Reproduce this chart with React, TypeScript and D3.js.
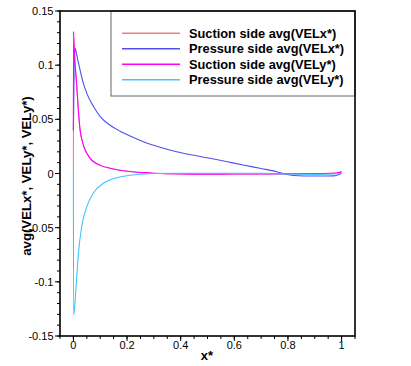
import React from "react";
import * as d3 from "d3";

const suctionVelxX = [0, 0.0005, 0.001, 0.004, 0.008, 0.0127, 0.018, 0.025, 0.035, 0.05, 0.07, 0.1, 0.137, 0.174, 0.22, 0.26, 0.3, 0.4, 0.5, 0.6, 0.7, 0.8, 0.9, 0.98, 1.0];
const suctionVelxY = [0.008, 0.11, 0.125, 0.11, 0.095, 0.08, 0.06, 0.04, 0.028, 0.0186, 0.012, 0.0075, 0.0048, 0.003, 0.0016, 0.0008, 0.0002, -0.0005, -0.0006, -0.0005, -0.0004, -0.0002, 0, 0.0005, 0.0015];

const pressureVelxX = [0, 0.003, 0.0065, 0.012, 0.018, 0.025, 0.035, 0.05, 0.0745, 0.1, 0.137, 0.174, 0.22, 0.261, 0.32, 0.385, 0.45, 0.509, 0.57, 0.633, 0.7, 0.758, 0.789, 0.82, 0.9, 0.97, 1.0];
const pressureVelxY = [0.04, 0.105, 0.1155, 0.11, 0.103, 0.0955, 0.085, 0.074, 0.062, 0.0525, 0.0445, 0.039, 0.0337, 0.0294, 0.0245, 0.0201, 0.0168, 0.014, 0.011, 0.0078, 0.0046, 0.0017, -0.0005, -0.0018, -0.0023, -0.0022, 0.0];

const suctionVelyX = [0, 0.0005, 0.001, 0.004, 0.008, 0.0127, 0.018, 0.025, 0.035, 0.05, 0.07, 0.1, 0.137, 0.174, 0.22, 0.26, 0.3, 0.4, 0.5, 0.6, 0.7, 0.8, 0.9, 0.98, 1.0];
const suctionVelyY = [0.04, 0.131, 0.128, 0.11, 0.095, 0.08, 0.06, 0.04, 0.028, 0.0186, 0.012, 0.0075, 0.0048, 0.003, 0.0016, 0.0008, 0.0002, -0.0005, -0.0006, -0.0005, -0.0004, -0.0002, 0, 0.0005, 0.0015];

const pressureVelyX = [0, 0.0005, 0.004, 0.01, 0.0187, 0.031, 0.05, 0.0745, 0.112, 0.137, 0.174, 0.22, 0.26, 0.3, 0.4, 0.5, 0.6, 0.7, 0.8, 0.9, 1.0];
const pressureVelyY = [0.008, -0.1306, -0.125, -0.1045, -0.0737, -0.049, -0.0306, -0.018, -0.009, -0.0058, -0.0032, -0.0014, -0.0005, 0, 0.0003, 0.0003, 0.0002, 0.0001, -0.0005, -0.0008, 0.0];

const seriesNames = [
  "Suction side avg(VELx*)",
  "Pressure side avg(VELx*)",
  "Suction side avg(VELy*)",
  "Pressure side avg(VELy*)",
];
const seriesColors = ["#f08080", "#5050ee", "#ff00ff", "#40c4ff"];

const xMajorTicks = [0, 0.2, 0.4, 0.6, 0.8, 1];
const xTickLabels = ["0", "0.2", "0.4", "0.6", "0.8", "1"];
const yMajorTicks = [0.15, 0.1, 0.05, 0, -0.05, -0.1, -0.15];
const yTickLabels = ["0.15", "0.1", "0.05", "0", "-0.05", "-0.1", "-0.15"];

export default function App() {
  const W = 411, H = 366;
  const L = 60, R = 355, T = 11, B = 336;
  const x = d3.scaleLinear().domain([-0.05, 1.05]).range([L, R]);
  const y = d3.scaleLinear().domain([-0.15, 0.15]).range([B, T]);

  const xs = [suctionVelxX, pressureVelxX, suctionVelyX, pressureVelyX];
  const ys = [suctionVelxY, pressureVelxY, suctionVelyY, pressureVelyY];
  const line = d3
    .line<[number, number]>()
    .x((d) => x(d[0]))
    .y((d) => y(d[1]))
    .curve(d3.curveMonotoneX);

  const xMinor = d3.range(0, 23).map((i) => -0.05 + i * 0.05);
  const yMinor = d3.range(0, 31).map((i) => -0.15 + i * 0.01);

  const font = "'Liberation Sans', Arial, Helvetica, sans-serif";

  return (
    <svg width={W} height={H} style={{ position: "absolute", left: 0, top: 0 }} fontFamily={font}>
      <rect x={0} y={0} width={W} height={H} fill="#fff" />
      {xs.map((xa, i) => (
        <path
          key={i}
          d={line(xa.map((v, j) => [v, ys[i][j]] as [number, number])) || ""}
          fill="none"
          stroke={seriesColors[i]}
          strokeWidth={1.1}
        />
      ))}
      {/* legend */}
      <rect x={111} y={T} width={R - 111} height={85} fill="#fff" stroke="#666" strokeWidth={1} />
      {seriesNames.map((n, i) => {
        const ly = 33.3 + i * 15.45;
        return (
          <g key={n}>
            <line x1={122} x2={180} y1={ly} y2={ly} stroke={seriesColors[i]} strokeWidth={1.5} />
            <text x={189} y={ly + 4.5} fontSize={12.8} fontWeight="bold" fill="#000">
              {n}
            </text>
          </g>
        );
      })}
      {/* frame */}
      <rect x={L} y={T} width={R - L} height={B - T} fill="none" stroke="#000" strokeWidth={1.6} />
      {/* x ticks */}
      {xMinor.map((v, i) => (
        <line key={"xm" + i} x1={x(v)} x2={x(v)} y1={B} y2={B + 3} stroke="#000" strokeWidth={1} />
      ))}
      {xMajorTicks.map((v, i) => (
        <g key={"xM" + i}>
          <line x1={x(v)} x2={x(v)} y1={B} y2={B + 5} stroke="#000" strokeWidth={1} />
          <text x={x(v)} y={348.5} fontSize={11} textAnchor="middle" fill="#000">
            {xTickLabels[i]}
          </text>
        </g>
      ))}
      {/* y ticks */}
      {yMinor.map((v, i) => (
        <line key={"ym" + i} x1={L - 3} x2={L} y1={y(v)} y2={y(v)} stroke="#000" strokeWidth={1} />
      ))}
      {yMajorTicks.map((v, i) => (
        <g key={"yM" + i}>
          <line x1={L - 5} x2={L} y1={y(v)} y2={y(v)} stroke="#000" strokeWidth={1} />
          <text x={53.5} y={y(v) + 4} fontSize={11} textAnchor="end" fill="#000">
            {yTickLabels[i]}
          </text>
        </g>
      ))}
      <text x={207} y={360} fontSize={13} fontWeight="bold" textAnchor="middle" fill="#000">
        x*
      </text>
      <text
        transform={`translate(31,176) rotate(-90)`}
        fontSize={13.2}
        fontWeight="bold"
        textAnchor="middle"
        fill="#000"
      >
        avg(VELx*, VELy*, VELy*)
      </text>
    </svg>
  );
}
